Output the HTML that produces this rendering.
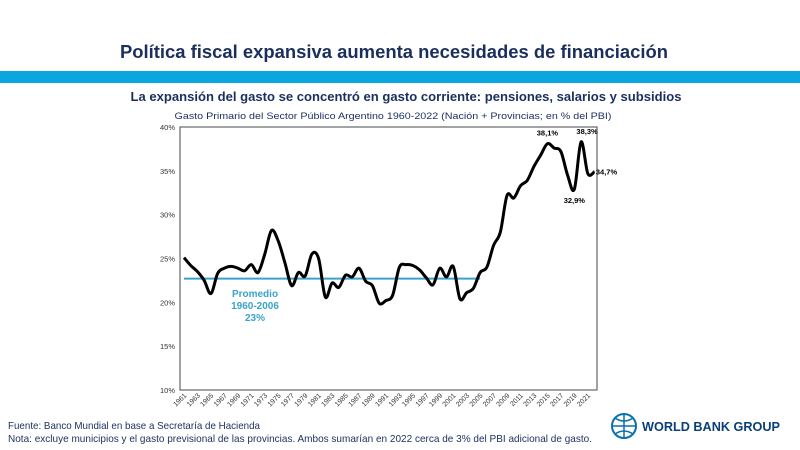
<!DOCTYPE html>
<html><head><meta charset="utf-8"><style>
body{margin:0;width:800px;height:450px;background:#fff;overflow:hidden}
svg{display:block;font-family:"Liberation Sans",sans-serif}
</style></head><body>
<svg id="s" width="800" height="450" viewBox="0 0 800 450">
<text x="394" y="58" text-anchor="middle" font-size="18" font-weight="bold" fill="#1b2f5e" textLength="548" lengthAdjust="spacingAndGlyphs">Política fiscal expansiva aumenta necesidades de financiación</text>
<rect x="0" y="71" width="800" height="12" fill="#0aa6de"/>
<text x="406" y="101" text-anchor="middle" font-size="13" font-weight="bold" fill="#1b2f5e" textLength="551" lengthAdjust="spacingAndGlyphs">La expansión del gasto se concentró en gasto corriente: pensiones, salarios y subsidios</text>
<text x="393" y="119" text-anchor="middle" font-size="9.5" fill="#1b2f5e" textLength="437" lengthAdjust="spacingAndGlyphs">Gasto Primario  del Sector Público Argentino 1960-2022 (Nación + Provincias; en % del PBI)</text>
<rect x="180" y="127" width="417" height="263" fill="none" stroke="#666" stroke-width="1.2"/>
<g id="yax"></g><g id="xax"></g><g id="avg"></g><g id="ser"></g><g id="lbl"></g>
<text x="8" y="429" font-size="10.5" fill="#1b2f5e" textLength="252" lengthAdjust="spacingAndGlyphs">Fuente: Banco Mundial en base a Secretaría de Hacienda</text>
<text x="8" y="442" font-size="10.5" fill="#1b2f5e" textLength="584" lengthAdjust="spacingAndGlyphs">Nota: excluye municipios y el gasto previsional de las provincias. Ambos sumarían en 2022 cerca de 3% del PBI adicional de gasto.</text>
<g>
<circle cx="624" cy="426" r="12" fill="none" stroke="#0a6fb0" stroke-width="2"/>
<path d="M612 426 H636 M624 414 V438 M615 418 Q624 424 633 418 M615 434 Q624 428 633 434" stroke="#0a6fb0" stroke-width="1.5" fill="none"/>
<text x="642" y="431" font-size="13" font-weight="bold" fill="#0a3f7a" textLength="138" lengthAdjust="spacingAndGlyphs">WORLD BANK GROUP</text>
</g>
</svg>
<script>
const years=[];for(let y=1961;y<=2022;y++)years.push(y);
const values=[25.1,24.2,23.5,22.5,21.0,23.3,23.9,24.1,23.9,23.6,
24.3,23.4,25.5,28.2,27.0,24.5,21.9,23.4,23.0,25.5,
25.0,20.6,22.2,21.7,23.1,22.9,23.9,22.4,21.9,19.9,
20.2,20.8,24.0,24.3,24.2,23.7,22.8,22.0,23.9,
22.9,24.1,20.4,21.1,21.6,23.4,24.0,26.5,28.0,32.2,
31.9,33.3,33.9,35.5,36.8,38.1,37.6,37.2,34.5,32.9,38.3,34.7,34.9];
const yTicks=[10,15,20,25,30,35,40];
const xTickYears=[];for(let y=1961;y<=2021;y+=2)xTickYears.push(y);
const avgValue=22.7, avgStart=1961, avgEnd=2005;
const annotations=[{year:2015,v:38.1,t:"38,1%",dx:0,dy:-8},{year:2020,v:38.3,t:"38,3%",dx:6,dy:-8},{year:2019,v:32.9,t:"32,9%",dx:0,dy:14},{year:2022,v:34.9,t:"34,7%",dx:12,dy:3}];
const NS="http://www.w3.org/2000/svg";
const X=y=>184+(y-1961)*6.73, Y=v=>390-(v-10)*263/30;
function mk(tag,at,par,txt){const e=document.createElementNS(NS,tag);for(const k in at)e.setAttribute(k,at[k]);if(txt!=null)e.textContent=txt;document.getElementById(par).appendChild(e);return e;}
yTicks.forEach(v=>{const e=mk('text',{x:175,y:Y(v)+3,'text-anchor':'end','font-size':7.5,fill:'#333'},'yax',v+'%');

});
xTickYears.forEach(y=>{const x=X(y);const e=mk('text',{x:x+3,y:396,'text-anchor':'end','font-size':7,fill:'#333',transform:`rotate(-45 ${x+3} 396)`},'xax',String(y));

});
const al=mk('line',{x1:X(avgStart),x2:X(avgEnd),y1:Y(avgValue),y2:Y(avgValue),stroke:'#3aa3c8','stroke-width':2},'avg');


['Promedio','1960-2006','23%'].forEach((t,i)=>{const e=mk('text',{x:255,y:297+i*12,'text-anchor':'middle','font-size':10,'font-weight':'bold',fill:'#3aa3c8'},'avg',t);

});
const pts=values.map((v,i)=>[X(1961+i),Y(v)]);
let d=`M${pts[0][0]},${pts[0][1]}`;
for(let i=0;i<pts.length-1;i++){const p0=pts[i-1]||pts[i],p1=pts[i],p2=pts[i+1],p3=pts[i+2]||p2;
d+=` C${p1[0]+(p2[0]-p0[0])/6},${p1[1]+(p2[1]-p0[1])/6} ${p2[0]-(p3[0]-p1[0])/6},${p2[1]-(p3[1]-p1[1])/6} ${p2[0]},${p2[1]}`;}
const ln=mk('path',{d:d,fill:'none',stroke:'#000','stroke-width':3,'stroke-linejoin':'round'},'ser');


annotations.forEach(a=>{const e=mk('text',{x:X(a.year)+a.dx,y:Y(a.v)+a.dy,'text-anchor':'middle','font-size':7.5,'font-weight':'bold',fill:'#000'},'lbl',a.t);

});
</script>
</body></html>
